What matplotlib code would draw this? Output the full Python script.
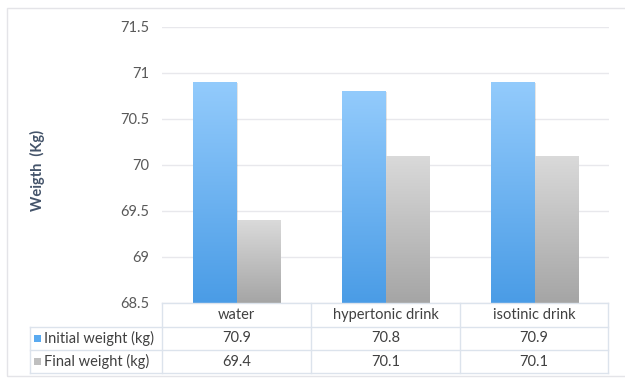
import numpy as np
import matplotlib
matplotlib.use("Agg")
import matplotlib.pyplot as plt
from matplotlib.colors import LinearSegmentedColormap
from matplotlib.patches import Rectangle
from matplotlib.lines import Line2D

plt.rcParams['font.family'] = ['Lato', 'DejaVu Sans']

# data
categories = ["water", "hypertonic drink", "isotinic drink"]
series_names = ["Initial weight (kg)", "Final weight (kg)"]
initial_weight = [70.9, 70.8, 70.9]
final_weight = [69.4, 70.1, 70.1]
y_ticks = [68.5, 69, 69.5, 70, 70.5, 71, 71.5]

W, H = 625, 379
fig = plt.figure(figsize=(W / 100, H / 100), dpi=100)

def fx(px):
    return px / W

def fy(py):
    return 1 - py / H

# outer chart border
fig.add_artist(Rectangle((fx(7), fy(376)), fx(640) - fx(7), fy(8) - fy(376),
                         transform=fig.transFigure, fill=False,
                         edgecolor="#E4E4E8", linewidth=1.0))

left, right, top, bottom = 162, 609, 27, 303
ax = fig.add_axes([fx(left), fy(bottom), fx(right) - fx(left), fy(top) - fy(bottom)])
ax.set_ylim(68.5, 71.5)
ax.set_xlim(0, 3)
ax.set_yticks(y_ticks)
ax.set_yticklabels(["%g" % t for t in y_ticks], color="#595959", fontsize=10.5)
ax.tick_params(axis='y', length=0, pad=9)
ax.set_xticks([])
for s in ax.spines.values():
    s.set_visible(False)
ax.grid(axis='y', color="#E8E8EC", linewidth=1.0)
ax.set_axisbelow(True)

blue_cmap = LinearSegmentedColormap.from_list("b", ["#4A9CE6", "#93CBFC"])
gray_cmap = LinearSegmentedColormap.from_list("g", ["#A5A5A5", "#DADADA"])
grad = np.linspace(0, 1, 256).reshape(-1, 1)

x = np.arange(len(categories)) + 0.5
bw = 0.29
for vals, offs, cmap in [(initial_weight, -bw / 2, blue_cmap), (final_weight, bw / 2, gray_cmap)]:
    bars = ax.bar(x + offs, np.array(vals) - 68.5, bottom=68.5, width=bw,
                  color="none", edgecolor="none", zorder=2)
    for b in bars:
        x0, y0 = b.get_x(), b.get_y()
        w, h = b.get_width(), b.get_height()
        # soft shadow
        ax.add_patch(Rectangle((x0 + 0.008, y0), w, h - 0.01, facecolor="#000000",
                               alpha=0.10, edgecolor="none", zorder=1.5))
        im = ax.imshow(grad, cmap=cmap, origin="lower", aspect="auto",
                       extent=(x0, x0 + w, y0, y0 + h), zorder=2)
        im.set_clip_path(b)
ax.set_xlim(0, 3)
ax.set_ylim(68.5, 71.5)

fig.text(fx(37), fy(170), "Weigth  (Kg)", rotation=90, ha="center", va="center",
         fontsize=10.5, fontweight="bold", color="#44546A")

# data table below the plot
line_c = "#DCE3EC"
txt_c = "#404040"
col_edges = [162, 311, 460, 608]
row_edges = [303, 327, 350, 373]
tab_left = 30

def hline(py, x0, x1):
    fig.add_artist(Line2D([fx(x0), fx(x1)], [fy(py), fy(py)], color=line_c, lw=1.0))

def vline(px, y0, y1):
    fig.add_artist(Line2D([fx(px), fx(px)], [fy(y0), fy(y1)], color=line_c, lw=1.0))

hline(row_edges[0], col_edges[0], col_edges[-1])
for r in row_edges[1:]:
    hline(r, tab_left, col_edges[-1])
vline(tab_left, row_edges[1], row_edges[-1])
for c in col_edges:
    vline(c, row_edges[0], row_edges[-1])

for i, cat in enumerate(categories):
    cx = (col_edges[i] + col_edges[i + 1]) / 2
    fig.text(fx(cx), fy((row_edges[0] + row_edges[1]) / 2), cat, ha="center", va="center",
             fontsize=10.5, color=txt_c)

legend_cols = ["#5AAAF0", "#BFBFBF"]
for j, (name, vals) in enumerate(zip(series_names, [initial_weight, final_weight])):
    cy = (row_edges[j + 1] + row_edges[j + 2]) / 2
    fig.add_artist(Rectangle((fx(34), fy(cy + 3.5)), fx(7), fy(0) - fy(7),
                             transform=fig.transFigure, facecolor=legend_cols[j], edgecolor="none"))
    fig.text(fx(44), fy(cy), name, ha="left", va="center", fontsize=10.5, color=txt_c)
    for i, v in enumerate(vals):
        cx = (col_edges[i] + col_edges[i + 1]) / 2
        fig.text(fx(cx), fy(cy), "%.1f" % v, ha="center", va="center",
                 fontsize=10.5, color=txt_c)

fig.savefig("out.png", dpi=100, facecolor="white")
